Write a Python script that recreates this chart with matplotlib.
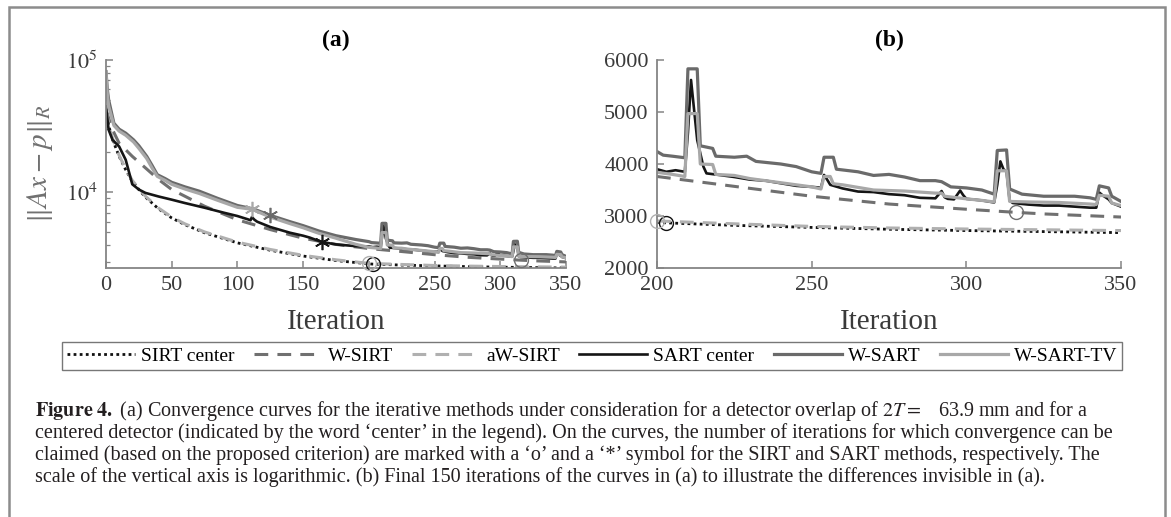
import numpy as np
import matplotlib
matplotlib.use("Agg")
import matplotlib.pyplot as plt
from matplotlib.patches import Rectangle

plt.rcParams['font.family'] = ['Liberation Serif', 'DejaVu Serif']
plt.rcParams['mathtext.fontset'] = 'stix'

# ---- data (iteration, residual norm) ----
sirt_center = [(0, 42000), (2, 32000), (5, 25000), (10, 18700), (15, 14800), (20, 12100),
               (25, 10500), (30, 9200), (40, 7500), (50, 6400), (60, 5700), (75, 4950),
               (100, 4150), (125, 3650), (150, 3300), (175, 3050), (200, 2880), (203, 2868),
               (225, 2820), (250, 2780), (275, 2745), (300, 2720), (325, 2700), (350, 2680)]

w_sirt = [(0, 42000), (5, 29700), (10, 23500), (20, 18700), (30, 15300), (40, 12500),
          (50, 10500), (75, 7850), (100, 6200), (125, 5230), (150, 4500), (175, 4040),
          (200, 3760), (225, 3570), (250, 3380), (275, 3230), (300, 3130), (316, 3070),
          (325, 3040), (350, 2980)]

aw_sirt = [(0, 43000), (2, 32500), (5, 25500), (10, 19000), (15, 15000), (20, 12300),
           (25, 10700), (30, 9350), (40, 7600), (50, 6500), (60, 5780), (75, 5020),
           (100, 4200), (125, 3700), (150, 3340), (175, 3090), (200, 2905), (225, 2850),
           (250, 2800), (275, 2770), (300, 2750), (325, 2735), (350, 2720)]

sart_center = [(0, 44500), (2, 29700), (5, 24900), (10, 22200), (15, 17600), (20, 11500),
               (25, 10500), (30, 9900), (40, 9300), (50, 8800), (60, 8300), (75, 7650),
               (90, 7000), (100, 6620), (108, 6250), (110, 6150), (111, 6500), (113, 6200),
               (115, 6000), (125, 5470), (140, 4950), (150, 4700), (155, 4550), (164, 4220),
               (175, 4040), (190, 3920), (200, 3900), (203, 3850), (206, 3880), (209, 3850),
               (210, 4600), (211, 5616), (213, 4460), (215, 3950), (216, 3820), (220, 3790),
               (225, 3750), (230, 3700), (235, 3680), (240, 3630), (245, 3580), (250, 3560),
               (252, 3550), (253, 3540), (254, 3790), (255, 3700), (256, 3600), (260, 3530),
               (265, 3470), (270, 3460), (275, 3420), (280, 3400), (285, 3350), (290, 3340),
               (292, 3480), (293, 3360), (294, 3330), (296, 3320), (298, 3490), (299, 3400),
               (300, 3330), (305, 3300), (309, 3260), (310, 3600), (311, 4050), (312, 3900),
               (313, 3850), (314, 3300), (315, 3250), (320, 3220), (325, 3200), (330, 3200),
               (335, 3180), (340, 3160), (342, 3160), (343, 3450), (344, 3400), (346, 3320),
               (347, 3250), (350, 3180)]

w_sart = [(0, 81700), (1, 60000), (2, 50000), (6, 33300), (10, 30000), (15, 28000),
          (21, 24900), (25, 22500), (31, 18700), (35, 16000), (39, 13600), (45, 12700),
          (50, 11900), (60, 11000), (71, 10200), (85, 9000), (100, 7950), (112, 7500),
          (125, 6700), (140, 6000), (150, 5600), (162, 5100), (175, 4700), (190, 4400),
          (200, 4240), (202, 4170), (205, 4150), (209, 4120), (210, 5830), (213, 5830),
          (214, 4350), (218, 4300), (219, 4150), (225, 4130), (229, 4150), (232, 4050),
          (240, 4000), (245, 3950), (250, 3850), (253, 3820), (254, 4130), (257, 4130),
          (258, 3900), (265, 3850), (270, 3780), (275, 3800), (280, 3750), (285, 3680),
          (290, 3680), (292, 3660), (295, 3560), (300, 3540), (305, 3500), (309, 3420),
          (310, 4260), (313, 4270), (314, 3520), (318, 3420), (325, 3380), (335, 3380),
          (340, 3350), (342, 3320), (343, 3580), (346, 3540), (347, 3380), (350, 3280)]

w_sart_tv = [(0, 80000), (1, 55000), (2, 45000), (6, 32000), (10, 29000), (15, 27000),
             (21, 24000), (25, 21500), (31, 18000), (35, 15300), (39, 13200), (45, 12300),
             (50, 11500), (60, 10600), (71, 9800), (85, 8700), (100, 7700), (111, 7450),
             (125, 6500), (140, 5800), (150, 5400), (162, 4900), (175, 4500), (190, 4050),
             (200, 3840), (205, 3800), (209, 3760), (210, 4970), (213, 4970), (214, 4000),
             (218, 3990), (219, 3800), (225, 3780), (230, 3720), (240, 3640), (250, 3560),
             (253, 3520), (254, 3760), (256, 3760), (257, 3620), (260, 3600), (270, 3500),
             (280, 3480), (290, 3440), (292, 3440), (293, 3380), (300, 3330), (305, 3300),
             (309, 3270), (310, 3870), (313, 3870), (314, 3280), (320, 3270), (330, 3260),
             (340, 3230), (342, 3220), (343, 3400), (346, 3380), (347, 3250), (350, 3200)]

labels = ['SIRT center', 'W-SIRT', 'aW-SIRT', 'SART center', 'W-SART', 'W-SART-TV']
series = [sirt_center, w_sirt, aw_sirt, sart_center, w_sart, w_sart_tv]
# iteration at which convergence is claimed for each curve
conv_iter = [203, 316, 200, 164, 125, 111]

colors = ['#111111', '#707070', '#b0b0b0', '#151515', '#6a6a6a', '#a8a8a8']
styles = [dict(ls=(0, (1, 1.2)), lw=2.0),
          dict(ls=(0, (4.5, 3)), lw=2.2),
          dict(ls=(0, (4.5, 3)), lw=2.2),
          dict(ls='-', lw=1.9),
          dict(ls='-', lw=2.3),
          dict(ls='-', lw=2.3)]
markers = ['o', 'o', 'o', (6, 2, 0), (6, 2, 0), (6, 2, 0)]

axis_col = '#858585'
tick_col = '#3a3a3a'

fig = plt.figure(figsize=(11.71, 5.17), dpi=100)
ax_a = fig.add_axes([106 / 1171, 1 - 268 / 517, 460 / 1171, 208 / 517])
ax_b = fig.add_axes([657 / 1171, 1 - 268 / 517, 464 / 1171, 208 / 517])

handles = []
for ax, lo in [(ax_a, 0), (ax_b, 200)]:
    for data, lab, c, st, m, ci in zip(series, labels, colors, styles, markers, conv_iter):
        it = np.array([p[0] for p in data])
        val = np.array([p[1] for p in data])
        keep = it >= lo
        ln, = ax.plot(it[keep], val[keep], color=c, label=lab, **st)
        if ax is ax_a:
            handles.append(ln)
        mval = dict(data)[ci]
        if ci >= lo:
            if m == 'o':
                ax.plot(ci, mval, marker='o', ms=10, mfc='none', mec=c, mew=1.0,
                        clip_on=False, zorder=5)
            else:
                ax.plot(ci, mval, marker=m, ms=11, mec=c, mew=1.2, color=c,
                        clip_on=False, zorder=5)

for ax in (ax_a, ax_b):
    for side in ('top', 'right'):
        ax.spines[side].set_visible(False)
    for side in ('left', 'bottom'):
        ax.spines[side].set_color(axis_col)
        ax.spines[side].set_linewidth(1.3)
    ax.tick_params(direction='in', length=5, width=1.1, color=axis_col,
                   labelcolor=tick_col, labelsize=16, pad=6)
    ax.tick_params(which='minor', direction='in', length=3, width=0.9, color=axis_col)
    ax.set_xlabel('Iteration', fontsize=21, color=tick_col, labelpad=10)

ax_a.set_yscale('log')
ax_a.set_xlim(0, 350)
ax_a.set_ylim(2680, 1e5)
ax_a.set_xticks(np.arange(0, 351, 50))
ax_a.set_yticks([1e4, 1e5])
ax_a.set_yticklabels([r'$10^4$', r'$10^5$'])
ax_a.yaxis.set_minor_formatter(plt.NullFormatter())
ax_a.set_ylabel(r'$\|Ax-p\|_R$', fontsize=21, color='#707070', labelpad=8)
ax_a.set_title('(a)', fontsize=17, fontweight='bold', pad=10)

ax_b.set_xlim(200, 350)
ax_b.set_ylim(2000, 6000)
ax_b.set_xticks([200, 250, 300, 350])
ax_b.set_yticks([2000, 3000, 4000, 5000, 6000])
ax_b.set_title('(b)', fontsize=17, fontweight='bold', pad=10)

leg = fig.legend(handles=handles, loc='center', bbox_to_anchor=(592 / 1171, 1 - 356 / 517),
                 ncol=6, fontsize=14, frameon=True, fancybox=False, handlelength=3.5,
                 handletextpad=0.3, columnspacing=1.0, borderpad=0.25)
leg.get_frame().set_edgecolor('#555555')
leg.get_frame().set_linewidth(1.0)

# outer frame of the figure panel
fig.patches.append(Rectangle((9 / 1171, -0.05), 1156 / 1171, 1.05 - 7 / 517,
                             transform=fig.transFigure, fill=False,
                             edgecolor='#8c8c8c', lw=1.8))

caption = [
    r"$\mathbf{Figure\ 4.}$ (a) Convergence curves for the iterative methods under consideration for a detector overlap of $2T=$   63.9 mm and for a",
    "centered detector (indicated by the word \u2018center\u2019 in the legend). On the curves, the number of iterations for which convergence can be",
    "claimed (based on the proposed criterion) are marked with a \u2018o\u2019 and a \u2018*\u2019 symbol for the SIRT and SART methods, respectively. The",
    "scale of the vertical axis is logarithmic. (b) Final 150 iterations of the curves in (a) to illustrate the differences invisible in (a).",
]
for i, line in enumerate(caption):
    fig.text(35 / 1171, 1 - (411 + 22 * i) / 517, line, fontsize=14.5, color='#231f20',
             ha='left', va='center')

fig.savefig('out.png', dpi=100)
